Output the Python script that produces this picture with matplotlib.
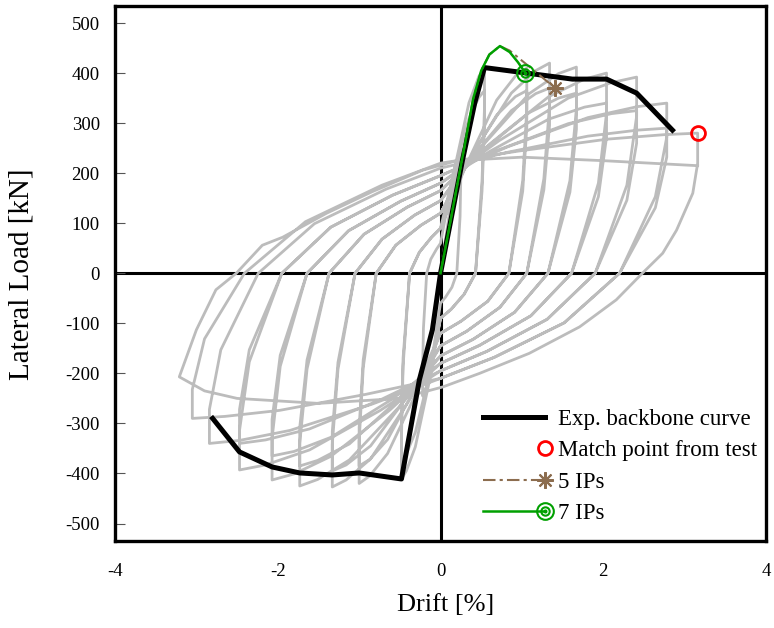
import numpy as np
import matplotlib
matplotlib.use("Agg")
import matplotlib.pyplot as plt
from matplotlib.path import Path
from matplotlib.lines import Line2D
from matplotlib.legend_handler import HandlerLine2D

plt.rcParams["font.family"] = ["Liberation Serif", "DejaVu Serif"]
plt.rcParams["axes.unicode_minus"] = False

# measured cyclic test, drift [%] vs lateral load [kN], one line per half cycle
test_drift = [
    0, 0.10, 0.18,
    0.25, 0.25, 0.24, 0.20, 0.14, 0.06, 0, -0.07, -0.14, -0.19,
    -0.22, -0.22, -0.21, -0.17, -0.12, -0.05, 0, 0.16, 0.35, 0.47,
    0.54, 0.54, 0.51, 0.43, 0.29, 0.13, 0, -0.14, -0.31, -0.42,
    -0.48, -0.48, -0.46, -0.38, -0.26, -0.11, 0, 0.16, 0.35, 0.47,
    0.54, 0.54, 0.51, 0.43, 0.29, 0.13, 0, -0.14, -0.31, -0.42,
    -0.48, -0.48, -0.46, -0.38, -0.26, -0.11, 0, 0.32, 0.69, 0.92,
    1.06, 1.06, 1.01, 0.84, 0.58, 0.25, 0, -0.30, -0.65, -0.87,
    -1.00, -1.00, -0.95, -0.79, -0.55, -0.24, 0, 0.32, 0.69, 0.92,
    1.06, 1.06, 1.01, 0.84, 0.58, 0.25, 0, -0.30, -0.65, -0.87,
    -1.00, -1.00, -0.95, -0.79, -0.55, -0.24, 0, 0.40, 0.87, 1.17,
    1.34, 1.34, 1.27, 1.06, 0.73, 0.32, 0, -0.40, -0.86, -1.16,
    -1.33, -1.33, -1.26, -1.05, -0.72, -0.32, 0, 0.40, 0.87, 1.17,
    1.34, 1.34, 1.27, 1.06, 0.73, 0.32, 0, -0.40, -0.86, -1.16,
    -1.33, -1.33, -1.26, -1.05, -0.72, -0.32, 0, 0.50, 1.09, 1.45,
    1.67, 1.67, 1.59, 1.32, 0.91, 0.40, 0, -0.52, -1.12, -1.51,
    -1.73, -1.73, -1.64, -1.37, -0.94, -0.41, 0, 0.50, 1.09, 1.45,
    1.67, 1.67, 1.59, 1.32, 0.91, 0.40, 0, -0.52, -1.12, -1.51,
    -1.73, -1.73, -1.64, -1.37, -0.94, -0.41, 0, 0.61, 1.33, 1.77,
    2.04, 2.04, 1.94, 1.61, 1.11, 0.48, 0, -0.62, -1.35, -1.80,
    -2.07, -2.07, -1.97, -1.64, -1.13, -0.49, 0, 0.61, 1.33, 1.77,
    2.04, 2.04, 1.94, 1.61, 1.11, 0.48, 0, -0.62, -1.35, -1.80,
    -2.07, -2.07, -1.97, -1.64, -1.13, -0.49, 0, 0.72, 1.57, 2.10,
    2.41, 2.41, 2.29, 1.90, 1.31, 0.57, 0, -0.74, -1.61, -2.15,
    -2.47, -2.47, -2.35, -1.95, -1.35, -0.59, 0, 0.72, 1.57, 2.10,
    2.41, 2.41, 2.29, 1.90, 1.31, 0.57, 0, -0.74, -1.61, -2.15,
    -2.47, -2.47, -2.35, -1.95, -1.35, -0.59, 0, 0.83, 1.81, 2.42,
    2.78, 2.78, 2.64, 2.20, 1.52, 0.66, 0, -0.85, -1.85, -2.47,
    -2.84, -2.84, -2.70, -2.24, -1.55, -0.67, 0, 0.83, 1.81, 2.42,
    2.78, 2.78, 2.64, 2.20, 1.52, 0.66, 0, -0.92, -1.98, -2.65,
    -3.05, -3.05, -2.90, -2.41, -1.66, -0.72, 0, 0.95, 2.05, 2.75,
    3.16, 3.16, 3.10, 2.90, 2.73, 2.48, 2.16, 1.71, 1.09, 0.48, 0.03, -0.50, -1.50, -2.50, -2.90,
    -3.21, -3.00, -2.76, -2.51, -2.19, -1.94, -1.40, -0.84, -0.22, 0.20, 1.00, 2.00, 2.80, 3.16,
]
test_load = [
    0, 110, 190,
    250, 200, 113, 0, -28, -48, -60, -134, -208, -236,
    -245, -196, -110, 0, 28, 48, 60, 200, 341, 393,
    411, 329, 185, 0, -42, -72, -90, -218, -347, -395,
    -411, -329, -185, 0, 42, 72, 90, 200, 310, 351,
    365, 292, 164, 0, -42, -72, -90, -204, -318, -361,
    -375, -300, -169, 0, 42, 72, 90, 218, 346, 394,
    410, 328, 185, 0, -56, -96, -120, -240, -360, -405,
    -420, -336, -189, 0, 56, 96, 120, 218, 316, 353,
    365, 292, 164, 0, -56, -96, -120, -226, -332, -372,
    -385, -308, -173, 0, 56, 96, 120, 240, 360, 405,
    420, 336, 189, 0, -68, -116, -145, -258, -371, -413,
    -427, -342, -192, 0, 68, 116, 145, 235, 325, 359,
    370, 296, 167, 0, -68, -116, -145, -245, -345, -383,
    -395, -316, -178, 0, 68, 116, 145, 252, 359, 399,
    412, 330, 185, 0, -78, -132, -165, -269, -373, -412,
    -425, -340, -191, 0, 78, 132, 165, 243, 321, 350,
    360, 288, 162, 0, -78, -132, -165, -253, -341, -374,
    -385, -308, -173, 0, 78, 132, 165, 259, 353, 388,
    400, 320, 180, 0, -85, -144, -180, -273, -366, -401,
    -413, -330, -186, 0, 85, 144, 180, 244, 308, 332,
    340, 272, 153, 0, -85, -144, -180, -254, -328, -356,
    -365, -292, -164, 0, 85, 144, 180, 265, 350, 381,
    392, 314, 176, 0, -92, -156, -195, -274, -353, -383,
    -393, -314, -177, 0, 92, 156, 195, 247, 299, 319,
    325, 260, 146, 0, -92, -156, -195, -253, -311, -333,
    -340, -272, -153, 0, 92, 156, 195, 253, 311, 333,
    340, 272, 153, 0, -99, -168, -210, -262, -314, -334,
    -340, -272, -153, 0, 99, 168, 210, 242, 274, 286,
    290, 232, 131, 0, -99, -168, -210, -242, -274, -286,
    -290, -232, -131, 0, 103, 176, 220, 244, 268, 277,
    280, 220, 160, 86, 40, 0, -53, -107, -160, -200, -227, -250, -260, -250, -235,
    -207, -113, -33, 0, 56, 72, 120, 163, 206, 225, 232, 225, 218, 215,
]

# experimental backbone
bb_drift = [-2.80, -2.47, -2.07, -1.73, -1.33, -1.00, -0.48, -0.26, -0.10, 0,
            0.27, 0.42, 0.54, 1.06, 1.62, 2.04, 2.41, 2.85]
bb_load = [-290, -357, -387, -399, -403, -399, -411, -213, -113, 0,
           226, 340, 411, 400, 388, 388, 360, 286]

# match point
match_drift = [3.16]
match_load = [280]

# model, 5 integration points
ip5_drift = [0, 0.10, 0.20, 0.30, 0.40, 0.50, 0.60, 0.73, 0.85, 1.41]
ip5_load = [0, 85, 172, 258, 348, 405, 437, 454, 445, 370]

# model, 7 integration points
ip7_drift = [0, 0.10, 0.20, 0.30, 0.40, 0.50, 0.60, 0.73, 0.85, 0.95, 1.04]
ip7_load = [0, 85, 172, 258, 348, 405, 437, 454, 442, 422, 401]


class HandlerEnd(HandlerLine2D):
    # legend line with its marker at the right end, like the Excel legend
    def create_artists(self, legend, orig_handle, xdescent, ydescent,
                       width, height, fontsize, trans):
        y = (height - ydescent) / 2
        line = Line2D([-xdescent, -xdescent + width], [y, y])
        self.update_prop(line, orig_handle, legend)
        line.set_marker("None")
        mk = Line2D([-xdescent + width], [y])
        self.update_prop(mk, orig_handle, legend)
        mk.set_linestyle("None")
        mk.set_markevery(None)
        line.set_transform(trans)
        mk.set_transform(trans)
        return [line, mk]


# bullseye marker for 7 IPs
circ = Path.unit_circle()
bull = Path.make_compound_path(circ,
                               Path(circ.vertices * 0.5, circ.codes),
                               Path(circ.vertices * 0.12, circ.codes))

fig = plt.figure(figsize=(7.74, 6.28), dpi=100)
ax = fig.add_axes([0.1486, 0.1385, 0.8411, 0.8519])

ax.axhline(0, color="k", lw=2.2, zorder=1)
ax.axvline(0, color="k", lw=2.2, zorder=1)

ax.plot(test_drift, test_load, color="#bcbcbc", lw=2.0, zorder=2,
        solid_joinstyle="round")

l_bb, = ax.plot(bb_drift, bb_load, color="k", lw=3.6, zorder=4,
                label="Exp. backbone curve")
l_m, = ax.plot(match_drift, match_load, ls="none", marker="o", ms=10,
               mfc="none", mec="red", mew=2, zorder=6,
               label="Match point from test")
l_5, = ax.plot(ip5_drift, ip5_load, color="#8c6d4f", lw=1.5,
               ls=(0, (6, 2, 1.5, 2)), marker=(8, 2, 0), ms=12, mew=1.5,
               markevery=[-1], zorder=5, label="5 IPs")
l_7, = ax.plot(ip7_drift, ip7_load, color="#00a000", lw=1.8,
               marker=bull, ms=12, mfc="none", mec="#00a000", mew=1.5,
               markevery=[-1], zorder=6, label="7 IPs")

ax.set_xlim(-4, 4)
ax.set_ylim(-535, 534)
ax.set_xticks([-4, -2, 0, 2, 4])
ax.set_yticks(np.arange(-500, 501, 100))
ax.tick_params(axis="x", length=0, pad=16, labelsize=13.5)
ax.tick_params(axis="y", direction="in", length=7, width=0.8, color="#555555",
               pad=11, labelsize=13.5)
for s in ax.spines.values():
    s.set_linewidth(2.4)

fig.text(22 / 774, 1 - 274 / 628, "Lateral Load [kN]", rotation=90,
         ha="center", va="center", fontsize=21)
fig.text(446 / 774, 1 - 605 / 628, "Drift [%]", ha="center", va="center",
         fontsize=19)

ax.legend(handles=[l_bb, l_m, l_5, l_7], loc="upper left",
          bbox_to_anchor=(0.565, 0.247), frameon=False, fontsize=16.5,
          handlelength=2.7, handletextpad=0.6, labelspacing=0.45,
          borderaxespad=0, borderpad=0,
          handler_map={l_bb: HandlerEnd(), l_m: HandlerEnd(),
                       l_5: HandlerEnd(), l_7: HandlerEnd()})

fig.savefig("out.png", dpi=100)
